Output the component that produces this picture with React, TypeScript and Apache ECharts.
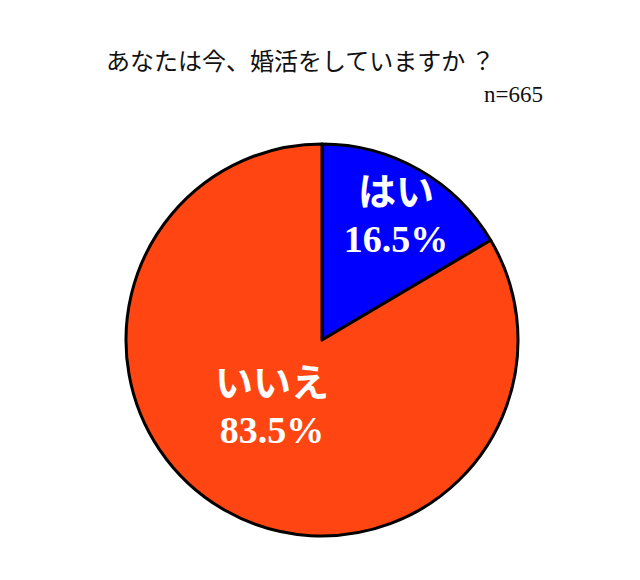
import React, { useEffect, useRef } from "react";
import * as echarts from "echarts";

const categories = ["はい", "いいえ"];
const values = [16.5, 83.5];
const colors = ["#0000FF", "#FF4511"];
const titleText = "あなたは今、婚活をしていますか ？";
const sampleText = "n=665";

export default function App() {
  const ref = useRef<HTMLDivElement>(null);
  useEffect(() => {
    const chart = echarts.init(ref.current!, null, { renderer: "svg" });
    const labelOffsets = [
      [24, -37],
      [0, -21],
    ];
    chart.setOption({
      animation: false,
      backgroundColor: "#ffffff",
      title: [
        {
          text: titleText,
          left: 101,
          top: 42,
          textStyle: {
            fontFamily: "Noto Sans CJK JP",
            fontWeight: "normal",
            fontSize: 24,
            color: "#111",
          },
        },
        {
          text: sampleText,
          right: 92,
          top: 78,
          textStyle: {
            fontFamily: "Liberation Serif",
            fontWeight: "normal",
            fontSize: 23,
            color: "#111",
          },
        },
      ],
      series: [
        {
          type: "pie",
          center: [322, 340],
          radius: 196,
          startAngle: 90,
          clockwise: true,
          silent: true,
          itemStyle: { borderColor: "#000", borderWidth: 3 },
          label: {
            show: true,
            position: "inside",
            formatter: (p: any) => `${p.name}\n${p.value}%`,
            color: "#fff",
            fontSize: 38,
            fontWeight: "bold",
            lineHeight: 47,
            fontFamily: "Liberation Serif, Noto Sans CJK JP",
            align: "center",
          },
          labelLine: { show: false },
          data: categories.map((c, i) => ({
            name: c,
            value: values[i],
            itemStyle: { color: colors[i] },
            label: { offset: labelOffsets[i] },
          })),
        },
      ],
    });
    return () => chart.dispose();
  }, []);
  return (
    <div
      ref={ref}
      style={{ position: "fixed", left: 0, top: 0, width: 640, height: 580 }}
    />
  );
}
